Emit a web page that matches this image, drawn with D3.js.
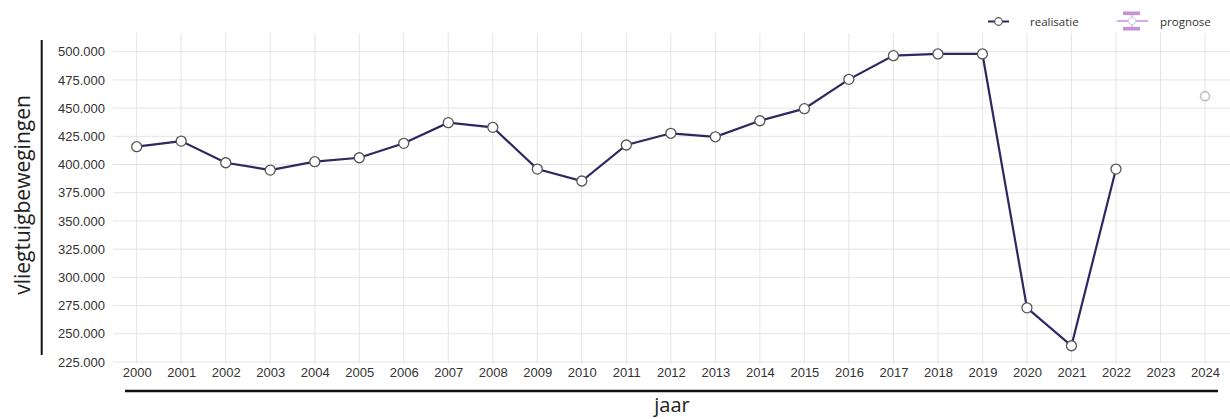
<!DOCTYPE html>
<meta charset="utf-8">
<html>
  <head>
    <title>Vliegtuigbewegingen</title>
    <script src="https://d3js.org/d3.v7.min.js"></script>
    <style>
      body {
        margin: 0;
        background: #fff;
        font-family: "Open Sans", "Noto Sans", sans-serif;
      }
      .grid line {
        stroke: #e4e4e4;
        stroke-width: 1px;
      }
      .tick-label {
        fill: #333;
        font-size: 13px;
      }
    </style>
  </head>
  <body>
    <svg id="chart" width="1230" height="419"></svg>

    <script>
      // jaren en realisatie (aantal vliegtuigbewegingen)
      const jaren = [2000, 2001, 2002, 2003, 2004, 2005, 2006, 2007, 2008, 2009, 2010, 2011,
                     2012, 2013, 2014, 2015, 2016, 2017, 2018, 2019, 2020, 2021, 2022];
      const realisatie = [415800, 420800, 401600, 395100, 402500, 406000, 418800, 437100,
                          433000, 396000, 385400, 417300, 427700, 424600, 438800, 449500,
                          475500, 496500, 498000, 498000, 273000, 239400, 396000];
      const prognoseJaar = [2024];
      const prognose = [460600];
      const xTicks = d3.range(2000, 2025);
      const yTicks = [225000, 250000, 275000, 300000, 325000, 350000, 375000,
                      400000, 425000, 450000, 475000, 500000];

      const svg = d3.select("#chart");

      const x = d3.scaleLinear().domain([2000, 2024]).range([136.7, 1205]);
      const y = d3.scaleLinear().domain([225000, 500000]).range([362, 51.7]);

      const nl = d3.formatLocale({ decimal: ",", thousands: ".", grouping: [3], currency: ["€", ""] });
      const fmt = nl.format(",.0f");

      // rasterlijnen
      const grid = svg.append("g").attr("class", "grid");
      grid.selectAll("line.h")
        .data(yTicks)
        .enter()
        .append("line")
          .attr("x1", 113).attr("x2", 1230)
          .attr("y1", d => y(d)).attr("y2", d => y(d));
      grid.selectAll("line.v")
        .data(xTicks)
        .enter()
        .append("line")
          .attr("x1", d => x(d)).attr("x2", d => x(d))
          .attr("y1", 33).attr("y2", 363);

      // y-as labels
      const yAxis = d3.axisLeft(y).tickValues(yTicks).tickFormat(fmt).tickSize(0).tickPadding(0);
      const gy = svg.append("g").attr("transform", "translate(105,0)").call(yAxis);
      gy.select(".domain").remove();
      gy.selectAll("text").attr("class", "tick-label").attr("font-family", null).attr("font-size", null);

      // x-as labels
      const xAxis = d3.axisBottom(x).tickValues(xTicks).tickFormat(d3.format("d")).tickSize(0).tickPadding(0);
      const gx = svg.append("g").attr("transform", "translate(0,368)").call(xAxis);
      gx.select(".domain").remove();
      gx.selectAll("text").attr("class", "tick-label").attr("font-family", null).attr("font-size", null);

      // aslijnen
      svg.append("line")
        .attr("x1", 41.7).attr("x2", 41.7).attr("y1", 40).attr("y2", 355)
        .attr("stroke", "#111").attr("stroke-width", 2);
      svg.append("line")
        .attr("x1", 125).attr("x2", 1218).attr("y1", 391).attr("y2", 391)
        .attr("stroke", "#111").attr("stroke-width", 2.5);

      // astitels
      svg.append("text")
        .attr("transform", "translate(30,195) rotate(-90)")
        .attr("text-anchor", "middle")
        .attr("font-size", 21)
        .attr("fill", "#222")
        .text("vliegtuigbewegingen");
      svg.append("text")
        .attr("x", 672).attr("y", 412)
        .attr("text-anchor", "middle")
        .attr("font-size", 20)
        .attr("fill", "#222")
        .text("jaar");

      // lijn realisatie
      const data = jaren.map((j, i) => ({ jaar: j, waarde: realisatie[i] }));
      const line = d3.line().x(d => x(d.jaar)).y(d => y(d.waarde));
      svg.append("path")
        .datum(data)
        .attr("fill", "none")
        .attr("stroke", "#2b2960")
        .attr("stroke-width", 2.2)
        .attr("d", line);
      svg.selectAll("circle.real")
        .data(data)
        .enter()
        .append("circle")
          .attr("class", "real")
          .attr("cx", d => x(d.jaar))
          .attr("cy", d => y(d.waarde))
          .attr("r", 5)
          .attr("fill", "#fff")
          .attr("stroke", "#555")
          .attr("stroke-width", 1.3);

      // prognose punt
      svg.selectAll("circle.prog")
        .data(prognoseJaar.map((j, i) => ({ jaar: j, waarde: prognose[i] })))
        .enter()
        .append("circle")
          .attr("class", "prog")
          .attr("cx", d => x(d.jaar))
          .attr("cy", d => y(d.waarde))
          .attr("r", 4.5)
          .attr("fill", "#fff")
          .attr("stroke", "#bfbfc4")
          .attr("stroke-width", 1.6);

      // legenda
      const lg = svg.append("g");
      lg.append("line")
        .attr("x1", 988).attr("x2", 1009).attr("y1", 21.5).attr("y2", 21.5)
        .attr("stroke", "#2b2960").attr("stroke-width", 2);
      lg.append("circle")
        .attr("cx", 998.5).attr("cy", 21.5).attr("r", 3.8)
        .attr("fill", "#fff").attr("stroke", "#555").attr("stroke-width", 1.2);
      lg.append("text")
        .attr("x", 1030).attr("y", 25.5)
        .attr("font-size", 11.5).attr("fill", "#333")
        .text("realisatie");

      lg.append("line")
        .attr("x1", 1117).attr("x2", 1148).attr("y1", 21).attr("y2", 21)
        .attr("stroke", "#dba8e8").attr("stroke-width", 2);
      lg.append("line")
        .attr("x1", 1132).attr("x2", 1132).attr("y1", 14).attr("y2", 28)
        .attr("stroke", "#dba8e8").attr("stroke-width", 1.5);
      lg.append("rect")
        .attr("x", 1123).attr("y", 11.5).attr("width", 17).attr("height", 3.5)
        .attr("fill", "#c990d6");
      lg.append("rect")
        .attr("x", 1123).attr("y", 27).attr("width", 17).attr("height", 3.5)
        .attr("fill", "#c990d6");
      lg.append("circle")
        .attr("cx", 1132).attr("cy", 21).attr("r", 3.5)
        .attr("fill", "#fff").attr("stroke", "#c9dde0").attr("stroke-width", 1.2);
      lg.append("text")
        .attr("x", 1160).attr("y", 25.5)
        .attr("font-size", 11.5).attr("fill", "#333")
        .text("prognose");
    </script>
  </body>
</html>
